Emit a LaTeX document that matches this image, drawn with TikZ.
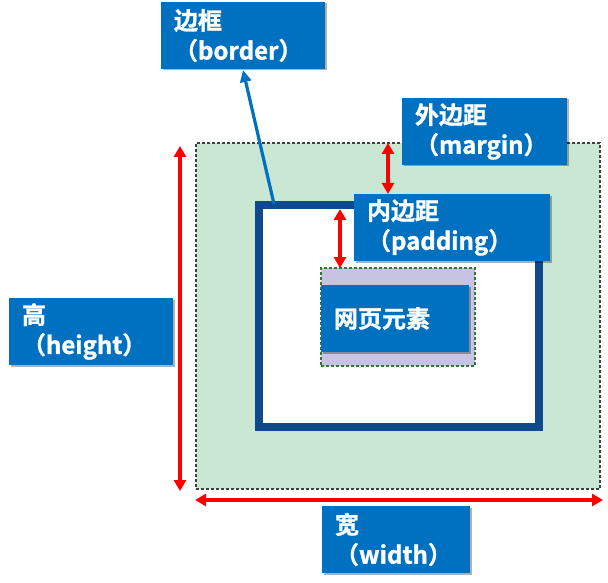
\documentclass[tikz,border=0pt]{standalone}
\usepackage{fontspec}
\newfontfamily\cjk[BoldFont={Noto Sans CJK SC Bold},BoldFeatures={FakeBold=1.2}]{Noto Sans CJK SC}
\usetikzlibrary{arrows.meta,shadows,calc}
\definecolor{lblue}{HTML}{0070C0}
\definecolor{frameblue}{HTML}{0F4A8F}
\definecolor{mgreen}{HTML}{C9E7D3}
\definecolor{plav}{HTML}{C6C4E2}
\definecolor{dgreen}{HTML}{2E7A32}
\tikzset{
  lbl/.style={fill=lblue, text=white, font=\cjk\bfseries\fontsize{24}{30}\selectfont,
    align=left, anchor=north west, inner xsep=13pt, inner ysep=0pt, outer sep=0pt,
    drop shadow={shadow xshift=1.5pt, shadow yshift=-1.5pt, opacity=0.3, fill=black}},
  redarr/.style={draw=red, line width=3.2pt, {Triangle[length=11pt,width=12pt]}-{Triangle[length=11pt,width=12pt]}},
  bluearr/.style={draw=lblue, line width=3.2pt, -{Triangle[length=12pt,width=11pt]}},
  area/.style={line width=1.3pt, dash pattern=on 3pt off 2pt, outer sep=0pt,
    anchor=north west, inner sep=0pt},
}
\begin{document}
\begin{tikzpicture}[x=1pt,y=-1pt]
\useasboundingbox (0,0) rectangle (608,583);
% margin area
\node[area, fill=mgreen, draw=black!75, minimum width=404pt, minimum height=346pt] (marea) at (196,143) {};
% border frame
\node[draw=frameblue, fill=white, line width=8pt, anchor=north west, outer sep=0pt,
  minimum width=280pt, minimum height=222pt, inner sep=0pt] (frame) at (259,205) {};
% padding area
\node[area, fill=plav, draw=dgreen, minimum width=154pt, minimum height=98pt] (parea) at (321,268) {};
% element
\node[lbl, text width=122pt, minimum height=67pt] (elem) at (321,285) {网页元素};
% labels
\node[lbl, text width=138pt, minimum height=67pt] (border) at (161,2) {边框\\（border）};
\node[lbl, text width=139pt, minimum height=67pt] (margin) at (402,98) {外边距\\（margin）};
\node[lbl, text width=170pt, minimum height=67pt] (padding) at (354,194) {内边距\\（padding）};
\node[lbl, text width=138pt, minimum height=67pt] (height) at (9,298) {高\\（height）};
\node[lbl, text width=122pt, minimum height=67pt] (width) at (322,506) {宽\\（width）};
% coordinates
\coordinate (bstart) at (274,204);
\coordinate (bend) at (243,70);
\coordinate (mtop) at (388,143);
\coordinate (mbot) at (388,194);
\coordinate (ptop) at (340,209);
\coordinate (pbot) at (340,268);
\coordinate (htop) at (180,146);
\coordinate (hbot) at (180,491);
\coordinate (wl) at (195,500);
\coordinate (wr) at (603,500);
% arrows
\draw[bluearr] (bstart) -- (bend);
\draw[redarr] (mtop) -- (mbot);
\draw[redarr] (ptop) -- (pbot);
\draw[redarr] (htop) -- (hbot);
\draw[redarr] (wl) -- (wr);
\end{tikzpicture}
\end{document}
